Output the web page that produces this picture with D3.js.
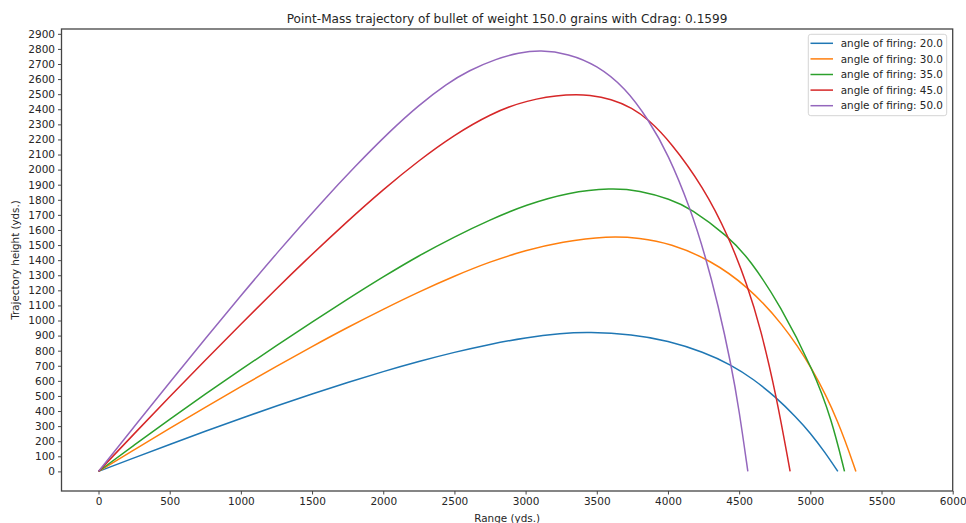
<!DOCTYPE html>
<html>
<head>
<meta charset="utf-8">
<script src="https://cdn.jsdelivr.net/npm/d3@7"></script>
<style>
  html, body { margin: 0; padding: 0; background: #fff; }
  text { font-family: "DejaVu Sans", sans-serif; fill: #262626; }
</style>
</head>
<body>
<svg id="chart" width="966" height="523"></svg>
<script>
// ---- data ----
const seriesLabels = ["angle of firing: 20.0", "angle of firing: 30.0", "angle of firing: 35.0", "angle of firing: 45.0", "angle of firing: 50.0"];
const seriesColors = ["#1f77b4", "#ff7f0e", "#2ca02c", "#d62728", "#9467bd"];

const range20  = [0, 250, 500, 750, 1000, 1250, 1500, 1750, 2000, 2250, 2500, 2750, 3000, 3250, 3440, 3750, 4000, 4250, 4444, 4600, 4760, 4900, 5000, 5100, 5193];
const height20 = [0, 90, 179, 266, 351, 434, 514, 590, 662, 729, 790, 843, 887, 915, 924, 908, 866, 791, 706, 612, 490, 360, 255, 130, 0];

const range30  = [0, 250, 500, 750, 1000, 1250, 1500, 1750, 2000, 2250, 2500, 2750, 3000, 3250, 3582, 3800, 4016, 4300, 4560, 4800, 5022, 5200, 5320];
const height30 = [0, 143, 285, 424, 562, 697, 828, 955, 1075, 1190, 1295, 1390, 1465, 1522, 1561, 1548, 1511, 1400, 1226, 986, 675, 328, 0];

const range35  = [0, 250, 500, 750, 1000, 1250, 1500, 1750, 2000, 2250, 2500, 2750, 3000, 3300, 3600, 3800, 4016, 4157, 4425, 4577, 4788, 5022, 5150, 5240];
const height35 = [0, 174, 345, 512, 675, 834, 990, 1142, 1290, 1430, 1555, 1668, 1766, 1849, 1879, 1862, 1804, 1745, 1557, 1402, 1102, 669, 343, 0];

const range45  = [0, 250, 500, 750, 1000, 1250, 1439, 1750, 2000, 2250, 2500, 2750, 3000, 3313, 3450, 3600, 3750, 3863, 4016, 4250, 4425, 4559, 4650, 4760, 4858];
const height45 = [0, 249, 495, 737, 976, 1211, 1385, 1660, 1869, 2061, 2231, 2368, 2461, 2502, 2494, 2469, 2409, 2332, 2187, 1883, 1559, 1231, 949, 509, 0];

const range50  = [0, 250, 500, 750, 1000, 1240, 1580, 1800, 2048, 2250, 2446, 2600, 2798, 2950, 3102, 3300, 3500, 3700, 3863, 4000, 4157, 4262, 4350, 4444, 4500, 4561];
const height50 = [0, 296, 590, 880, 1165, 1434, 1798, 2020, 2256, 2428, 2569, 2657, 2736, 2774, 2793, 2769, 2693, 2543, 2331, 2105, 1744, 1429, 1112, 708, 406, 0];

const xTicks = [0, 500, 1000, 1500, 2000, 2500, 3000, 3500, 4000, 4500, 5000, 5500, 6000];
const yTicks = d3.range(0, 2901, 100);

const titleText = "Point-Mass trajectory of bullet of weight 150.0 grains with Cdrag: 0.1599";
const xLabel = "Range (yds.)";
const yLabel = "Trajectory height (yds.)";

const seriesRanges = [range20, range30, range35, range45, range50];
const seriesHeights = [height20, height30, height35, height45, height50];

// ---- layout ----
const svg = d3.select("#chart");
const plot = { left: 61.5, right: 952.7, top: 29, bottom: 491 };

const x = d3.scaleLinear().domain([-260, 6000]).range([plot.left, plot.right]);
const y = d3.scaleLinear().domain([-130, 2932]).range([plot.bottom, plot.top]);

// axes
const xAxis = d3.axisBottom(x).tickValues(xTicks).tickFormat(d3.format("d")).tickSizeOuter(0).tickSize(3.5).tickPadding(3);
const yAxis = d3.axisLeft(y).tickValues(yTicks).tickFormat(d3.format("d")).tickSizeOuter(0).tickSize(3.5).tickPadding(3);

const gx = svg.append("g").attr("transform", `translate(0,${plot.bottom})`).call(xAxis);
const gy = svg.append("g").attr("transform", `translate(${plot.left},0)`).call(yAxis);
[gx, gy].forEach(g => {
  g.select(".domain").remove();
  g.selectAll(".tick line").attr("stroke", "#333").attr("stroke-width", 0.9);
  g.selectAll(".tick text").attr("font-size", "10.5px").attr("font-family", "DejaVu Sans, sans-serif").attr("fill", "#262626");
});

// lines
const lineGen = d3.line().x(d => x(d[0])).y(d => y(d[1])).curve(d3.curveBasis);
const clip = svg.append("clipPath").attr("id", "clip").append("rect")
  .attr("x", plot.left).attr("y", plot.top).attr("width", plot.right - plot.left).attr("height", plot.bottom - plot.top);
const lines = svg.append("g").attr("clip-path", "url(#clip)");
seriesRanges.forEach((xs, i) => {
  const pts = xs.map((v, j) => [v, seriesHeights[i][j]]);
  lines.append("path").datum(pts)
    .attr("d", lineGen)
    .attr("fill", "none")
    .attr("stroke", seriesColors[i])
    .attr("stroke-width", 1.5)
    .attr("stroke-linejoin", "round")
    .attr("stroke-linecap", "butt");
});

// frame
svg.append("rect")
  .attr("x", plot.left).attr("y", plot.top)
  .attr("width", plot.right - plot.left).attr("height", plot.bottom - plot.top)
  .attr("fill", "none").attr("stroke", "#444").attr("stroke-width", 1.3);

// title and labels
svg.append("text").attr("x", (plot.left + plot.right) / 2).attr("y", 22.5)
  .attr("text-anchor", "middle").attr("font-size", "12.1px").text(titleText);
svg.append("text").attr("x", (plot.left + plot.right) / 2).attr("y", 522)
  .attr("text-anchor", "middle").attr("font-size", "10.4px").text(xLabel);
svg.append("text").attr("transform", `translate(19,${(plot.top + plot.bottom) / 2}) rotate(-90)`)
  .attr("text-anchor", "middle").attr("font-size", "10.3px").text(yLabel);

// legend
const lg = svg.append("g");
lg.append("rect").attr("x", 808.3).attr("y", 34.3).attr("width", 138.4).attr("height", 81.4)
  .attr("rx", 2.5).attr("fill", "#fff").attr("fill-opacity", 0.8).attr("stroke", "#d0d0d0").attr("stroke-width", 0.9);
seriesLabels.forEach((lab, i) => {
  const yy = 43.3 + i * 15.6;
  lg.append("line").attr("x1", 810.5).attr("x2", 833).attr("y1", yy).attr("y2", yy)
    .attr("stroke", seriesColors[i]).attr("stroke-width", 1.5);
  lg.append("text").attr("x", 840.7).attr("y", yy + 3.7).attr("font-size", "10.4px").text(lab);
});
</script>
</body>
</html>
